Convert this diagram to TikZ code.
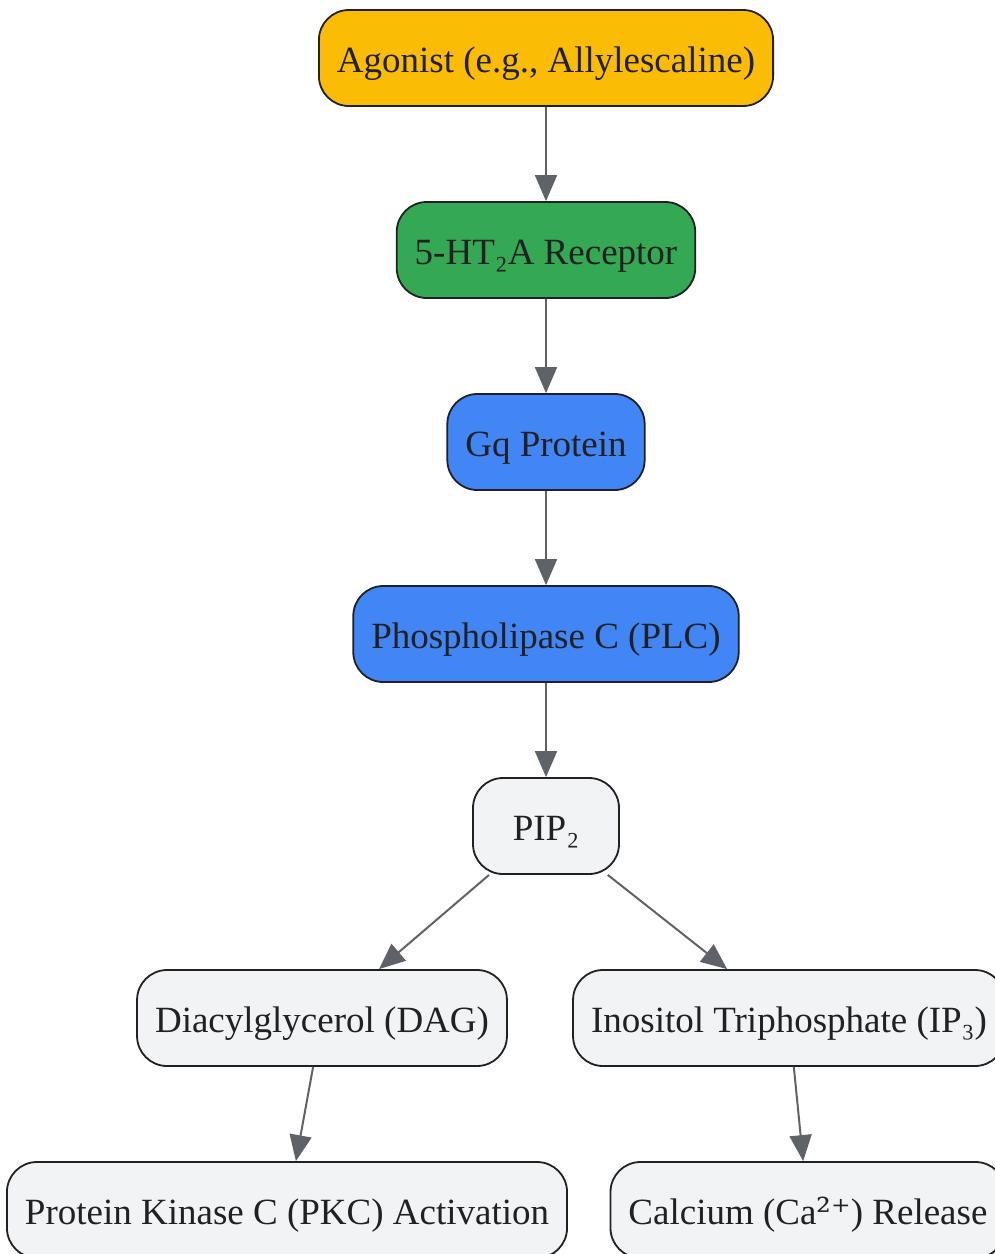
\documentclass[tikz,border=0pt]{standalone}
\usepackage{fontspec}
\setmainfont{Liberation Serif}
\newfontfamily\supfont{DejaVu Serif}
\usetikzlibrary{arrows.meta}
\definecolor{agocol}{HTML}{FBBC05}
\definecolor{reccol}{HTML}{34A853}
\definecolor{bluecol}{HTML}{4285F4}
\definecolor{greycol}{HTML}{F1F3F4}
\definecolor{edgecol}{HTML}{5F6368}
\definecolor{textcol}{HTML}{202124}
\tikzset{
  stepnode/.style={rectangle, rounded corners=30pt, draw=textcol, line width=1.8pt,
    minimum height=96pt, minimum width=146pt, inner xsep=18pt, text=textcol,
    text height=30pt, text depth=2pt,
    font=\fontsize{37}{40}\selectfont},
  flow/.style={draw=edgecol, line width=2pt, -{Triangle[length=26pt, width=22pt]}}
}
\begin{document}
\begin{tikzpicture}[x=1pt, y=-1pt]
\useasboundingbox (0,0) rectangle (995,1254);
\clip (0,0) rectangle (995,1254);
\node[stepnode, fill=agocol] (ago) at (546,58){Agonist (e.g., Allylescaline)};
\node[stepnode, fill=reccol] (rec) at (546,250){5-HT₂A Receptor};
\node[stepnode, fill=bluecol] (gq) at (546,442){Gq Protein};
\node[stepnode, fill=bluecol] (plc) at (546,634){Phospholipase C (PLC)};
\node[stepnode, fill=greycol] (pip) at (546,826){PIP₂};
\node[stepnode, fill=greycol] (dag) at (322,1018){Diacylglycerol (DAG)};
\node[stepnode, fill=greycol] (ip3) at (789,1018){Inositol Triphosphate (IP₃)};
\node[stepnode, fill=greycol] (pkc) at (287,1210){Protein Kinase C (PKC) Activation};
\node[stepnode, fill=greycol] (ca) at (808,1210){Calcium (Ca{\supfont ²⁺}) Release};
\draw[flow](ago) -- (rec);
\draw[flow](rec) -- (gq);
\draw[flow](gq) -- (plc);
\draw[flow](plc) -- (pip);
\draw[flow](pip) -- (dag);
\draw[flow](pip) -- (ip3);
\draw[flow](dag) -- (pkc);
\draw[flow](ip3) -- (ca);
\end{tikzpicture}
\end{document}
